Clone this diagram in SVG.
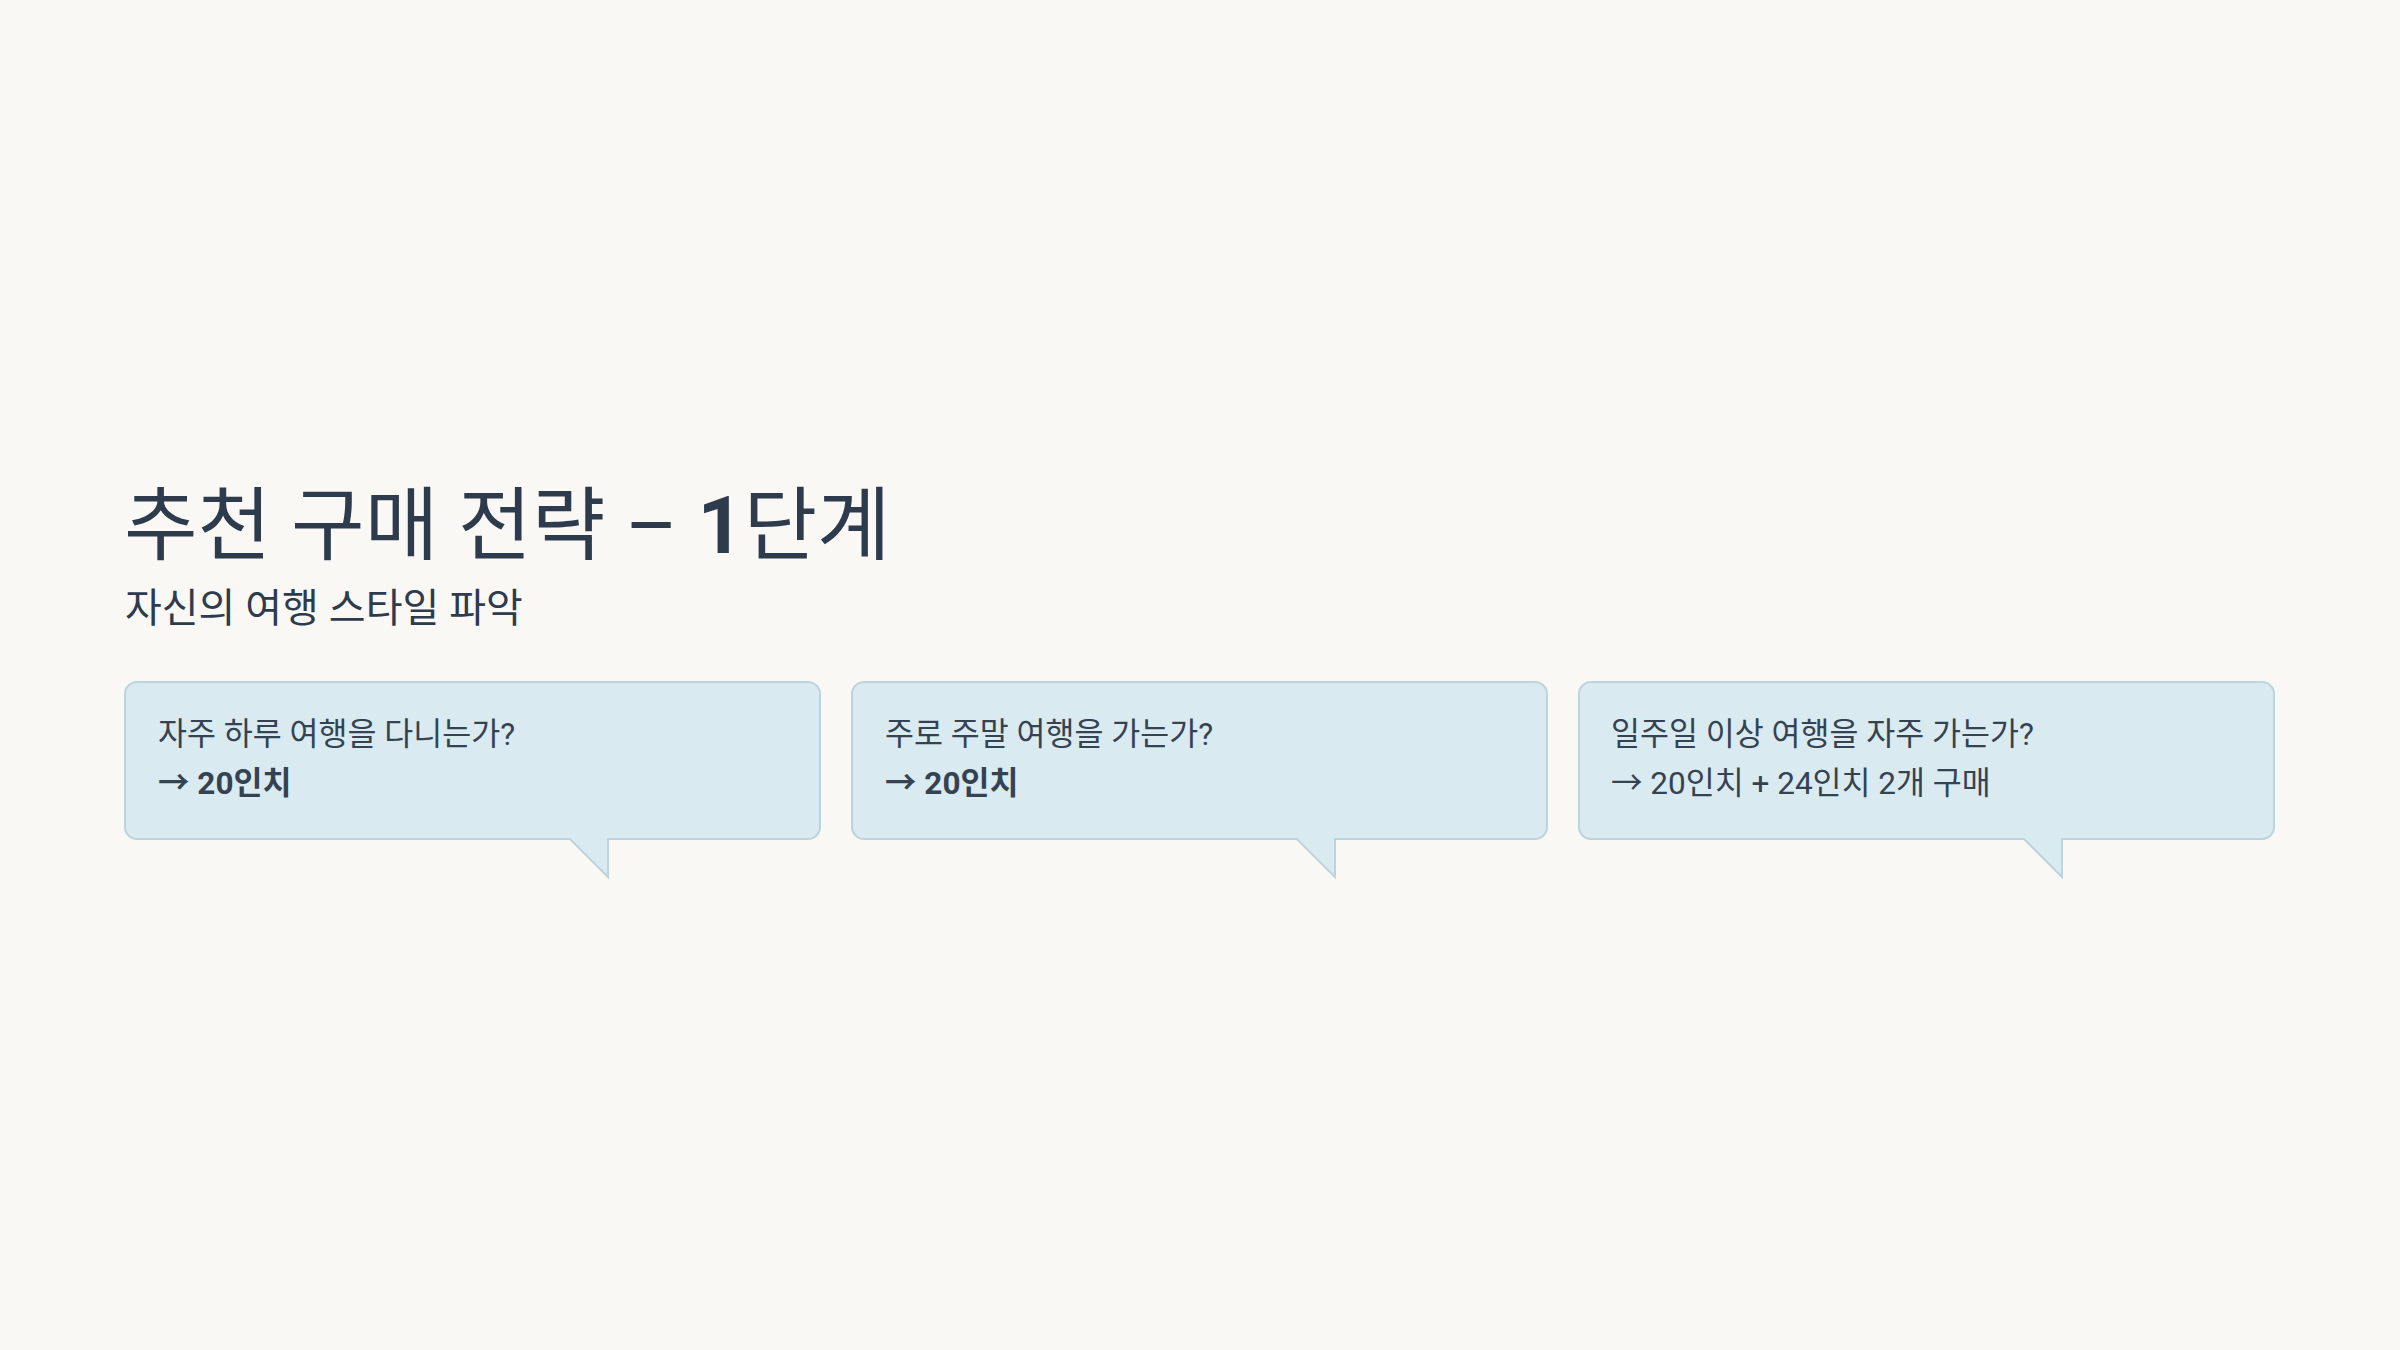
<svg xmlns="http://www.w3.org/2000/svg" width="2400" height="1350" viewBox="0 0 2400 1350">
<style>
.bg{fill:#f9f8f5}
.title{font-family:Roboto,"Noto Sans CJK KR",sans-serif;font-size:80px;font-weight:400;fill:#2e3b4d}
.sub{font-family:Roboto,"Noto Sans CJK KR",sans-serif;font-size:40px;fill:#2e3b4d}
.bubble{fill:#d9eaf0;stroke:#bdd4dc;stroke-width:2}
.q{font-family:Roboto,"Noto Sans CJK KR",sans-serif;font-size:31.5px;fill:#344252}
.a{font-family:Roboto,"Noto Sans CJK KR",sans-serif;font-size:31.5px;fill:#344252}
.b{font-weight:700}
</style>
<rect class="bg" x="0" y="0" width="2400" height="1350"/>
<g id="header">
<text class="title" x="124" y="553">추천 구매 전략 – <tspan font-weight="700">1</tspan>단계</text>
<text class="sub" x="125" y="622">자신의 여행 스타일 파악</text>
</g>
<g id="bubble1">
<path class="bubble" d="M137,682 H808 A12,12 0 0 1 820,694 V827 A12,12 0 0 1 808,839 H608 V877 L570,839 H137 A12,12 0 0 1 125,827 V694 A12,12 0 0 1 137,682 Z"/>
<text class="q" x="158" y="745">자주 하루 여행을 다니는가?</text>
<text class="a b" x="158" y="794">→ 20인치</text>
</g>
<g id="bubble2">
<path class="bubble" d="M864,682 H1535 A12,12 0 0 1 1547,694 V827 A12,12 0 0 1 1535,839 H1335 V877 L1297,839 H864 A12,12 0 0 1 852,827 V694 A12,12 0 0 1 864,682 Z"/>
<text class="q" x="885" y="745">주로 주말 여행을 가는가?</text>
<text class="a b" x="885" y="794">→ 20인치</text>
</g>
<g id="bubble3">
<path class="bubble" d="M1591,682 H2262 A12,12 0 0 1 2274,694 V827 A12,12 0 0 1 2262,839 H2062 V877 L2024,839 H1591 A12,12 0 0 1 1579,827 V694 A12,12 0 0 1 1591,682 Z"/>
<text class="q" x="1611" y="745">일주일 이상 여행을 자주 가는가?</text>
<text class="a" x="1611" y="794">→ 20인치 + 24인치 2개 구매</text>
</g>
<g id="connectors"></g>
</svg>
